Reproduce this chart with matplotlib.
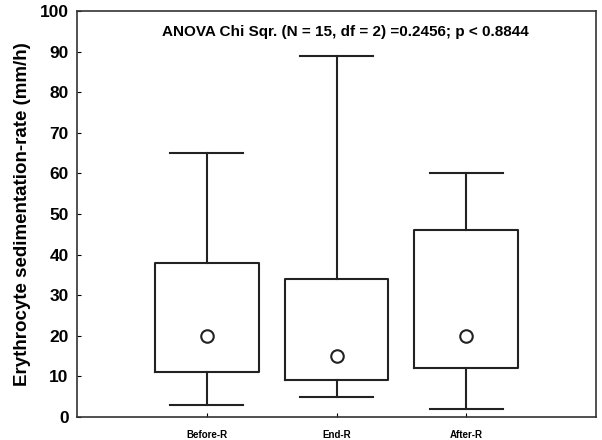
import matplotlib.pyplot as plt

plt.rcParams['font.family'] = ['Liberation Sans', 'DejaVu Sans']

# Valors llegits del gràfic (mm/h)
groups = ['Before-R', 'End-R', 'After-R']
whisker_low = [3, 5, 2]
q1 = [11, 9, 12]
median = [20, 15, 20]
q3 = [38, 34, 46]
whisker_high = [65, 89, 60]

stats = []
for i, g in enumerate(groups):
    stats.append({'label': g, 'whislo': whisker_low[i], 'q1': q1[i], 'med': median[i],
                  'mean': median[i], 'q3': q3[i], 'whishi': whisker_high[i], 'fliers': []})

fig = plt.figure(figsize=(6.02, 4.40), dpi=100, facecolor='white')
ax = fig.add_axes([77 / 602, 1 - 417 / 440, 519 / 602, 406 / 440])

lw = 1.5
ax.bxp(stats, positions=[1, 2, 3], widths=0.8, showmeans=True, showfliers=False,
       boxprops=dict(color='#222222', linewidth=lw),
       whiskerprops=dict(color='#222222', linewidth=lw),
       capprops=dict(color='#222222', linewidth=lw),
       medianprops=dict(linestyle='none'),
       meanprops=dict(marker='o', markerfacecolor='white', markeredgecolor='#222222',
                      markersize=9, markeredgewidth=1.5),
       capwidths=0.56)

ax.set_xlim(0, 4)
ax.set_ylim(0, 100)
ax.set_yticks(range(0, 101, 10))
ax.tick_params(axis='y', direction='in', length=3, labelsize=12.5, pad=6)
ax.tick_params(axis='x', direction='in', length=3, labelsize=7, pad=9)
for lab in ax.get_yticklabels() + ax.get_xticklabels():
    lab.set_fontweight('bold')
for s in ax.spines.values():
    s.set_linewidth(1.2)
    s.set_color('#333333')

ax.set_ylabel('Erythrocyte sedimentation-rate (mm/h)', fontsize=13.5, fontweight='bold', labelpad=6)
ax.text(2.07, 94.8, 'ANOVA Chi Sqr. (N = 15, df = 2) =0.2456; p < 0.8844',
        ha='center', va='center', fontsize=11, fontweight='bold')

plt.savefig('out.png', dpi=100)
